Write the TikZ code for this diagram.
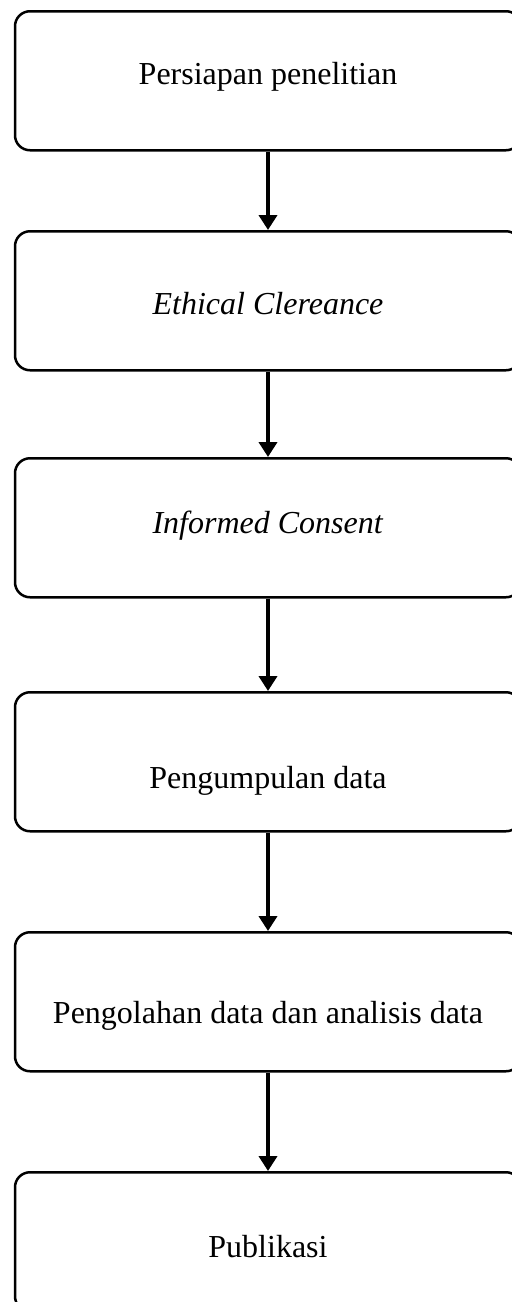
\documentclass[tikz,border=0pt]{standalone}
\usepackage{fontspec}
\setmainfont{Liberation Serif}
\usetikzlibrary{arrows.meta,positioning}

\tikzset{
 stepbox/.style={draw,rounded corners=7.5pt,line width=1.25pt,minimum width=253pt,
  inner sep=0pt,anchor=north,font=\fontsize{16}{19}\selectfont},
 flowarrow/.style={line width=2pt,-{Triangle[width=9pt,length=7.5pt]}}
}

\begin{document}
\begin{tikzpicture}[x=.5pt,y=-.5pt]
\useasboundingbox (0,0) rectangle (511,1302);
% boxes: top edge and baseline offset in px
\foreach \n/\top/\off/\txt in {1/10/73/{Persiapan penelitian},
  2/230/83/{\textit{Ethical Clereance}},
  3/457/75/{\textit{Informed Consent}},
  4/691/96/{Pengumpulan data},
  5/931/91/{Pengolahan data dan analisis data},
  6/1171/85/{Publikasi}} {
 \pgfmathsetmacro{\th}{\off/2}
 \pgfmathsetmacro{\td}{(139-\off)/2}
 \node[stepbox,text height=\th pt,text depth=\td pt] (b\n) at (268,\top) {\txt};}
% arrows between the steps
\foreach \a/\b in {1/2,2/3,3/4,4/5,5/6}
 \draw[flowarrow] (b\a) -- (b\b);
\end{tikzpicture}
\end{document}
